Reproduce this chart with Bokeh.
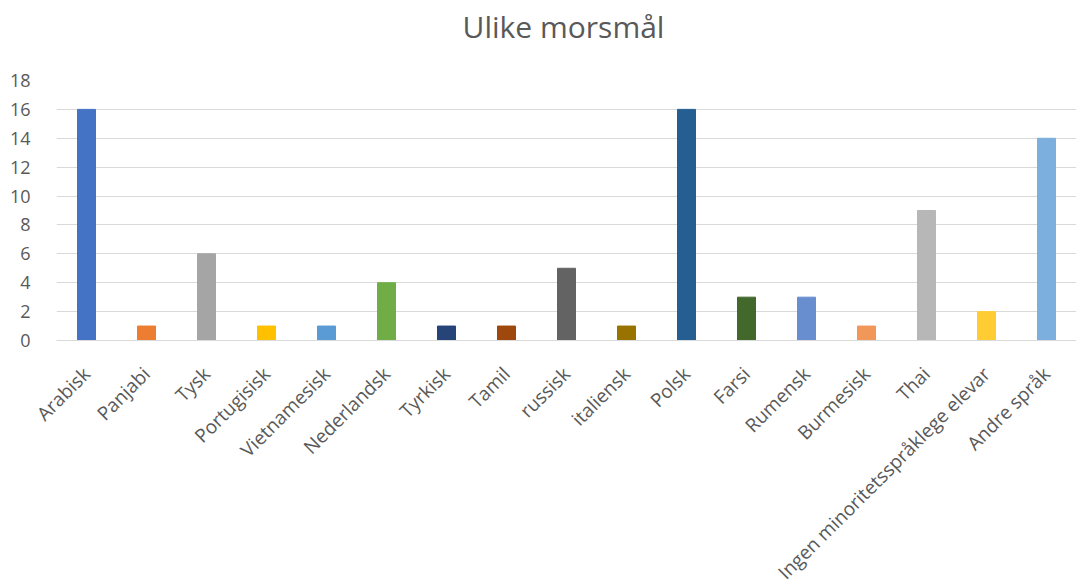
import math
from bokeh.plotting import figure
from bokeh.models import Range1d, FixedTicker, ColumnDataSource, Div
from bokeh.layouts import column
from bokeh.embed import file_html
from bokeh.resources import INLINE

categories = ["Arabisk", "Panjabi", "Tysk", "Portugisisk", "Vietnamesisk", "Nederlandsk",
              "Tyrkisk", "Tamil", "russisk", "italiensk", "Polsk", "Farsi", "Rumensk",
              "Burmesisk", "Thai", "Ingen minoritetsspråklege elevar", "Andre språk"]
values = [16, 1, 6, 1, 1, 4, 1, 1, 5, 1, 16, 3, 3, 1, 9, 2, 14]
colors = ["#4472C4", "#ED7D31", "#A5A5A5", "#FFC000", "#5B9BD5", "#70AD47",
          "#264478", "#9E480E", "#636363", "#997300", "#255E91", "#43682B",
          "#698ED0", "#F1975A", "#B7B7B7", "#FFCD33", "#7CAFDD"]
y_ticks = [0, 2, 4, 6, 8, 10, 12, 14, 16, 18]
title_text = "Ulike morsmål"

FONT = "Open Sans"
TXT = "#595959"

src = ColumnDataSource(dict(cat=categories, val=values, col=colors))

title = Div(text=title_text, width=1077, height=50,
            styles={"font-family": FONT, "font-size": "30px", "color": TXT,
                    "text-align": "center", "text-indent": "40px", "padding-top": "2px",
                    "box-sizing": "border-box", "line-height": "1.3"})

p = figure(x_range=categories, y_range=Range1d(0, 18),
           frame_width=1020, frame_height=260,
           min_border_left=56, min_border_top=20, min_border_right=0, min_border_bottom=0,
           output_backend="svg", toolbar_location=None, title=None)
p.x_range.range_padding = 0
p.vbar(x="cat", top="val", width=0.3, color="col", source=src)

p.outline_line_color = None
p.xgrid.grid_line_color = None
p.ygrid.grid_line_color = "#D9D9D9"
p.ygrid.grid_line_width = 1

p.yaxis.ticker = FixedTicker(ticks=y_ticks)
p.yaxis.axis_line_color = None
p.yaxis.major_tick_line_color = None
p.yaxis.minor_tick_line_color = None
p.yaxis.major_label_text_font = FONT
p.yaxis.major_label_text_font_size = "18px"
p.yaxis.major_label_text_color = TXT
p.yaxis.major_label_standoff = 20

p.xaxis.axis_line_color = "#D9D9D9"
p.xaxis.major_tick_line_color = None
p.xaxis.minor_tick_line_color = None
p.xaxis.major_label_orientation = math.pi / 4
p.xaxis.major_label_text_font = FONT
p.xaxis.major_label_text_font_size = "19px"
p.xaxis.major_label_text_color = TXT
p.xaxis.major_label_standoff = 24

layout = column(title, p, spacing=0)
open("out.html", "w").write(file_html(layout, INLINE))
